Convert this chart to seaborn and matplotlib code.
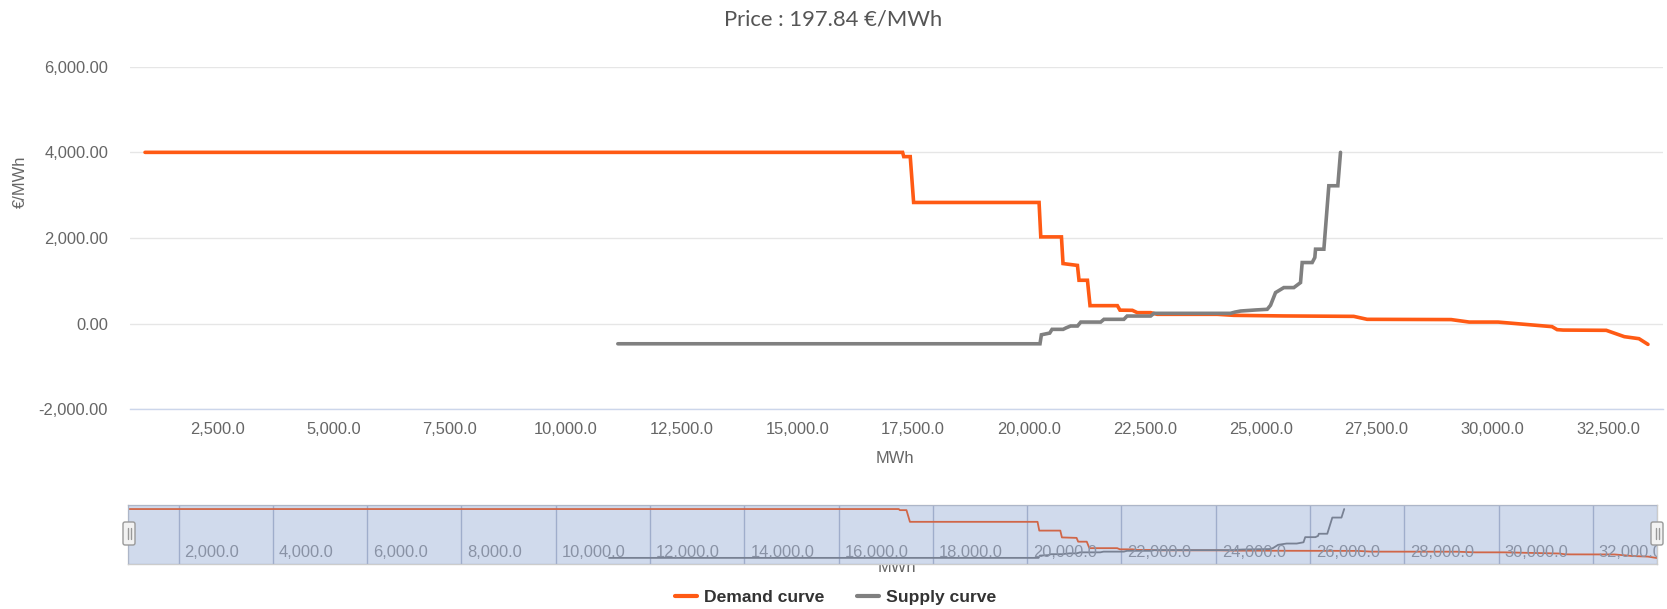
import matplotlib
matplotlib.use("Agg")
import matplotlib.pyplot as plt
import pandas as pd
import seaborn as sns
from matplotlib.lines import Line2D
from matplotlib.patches import FancyBboxPatch, Rectangle
from matplotlib.ticker import FixedLocator, FuncFormatter
from matplotlib.transforms import blended_transform_factory

# ---- data -----------------------------------------------------------------
title_text = "Price : 197.84 €/MWh"
x_label = "MWh"
y_label = "€/MWh"
series_names = ["Demand curve", "Supply curve"]

demand_mwh = [927, 17275, 17300, 17440, 17513, 20220, 20257, 20703, 20737,
              21048, 21082, 21264, 21320, 21910, 21966, 22233, 22340, 22628,
              22770, 24066, 24420, 25500, 27010, 27300, 29112, 29502, 30124,
              31290, 31400, 31530, 32460, 32850, 33166, 33360]
demand_price = [4000, 4000, 3900, 3900, 2830, 2830, 2026, 2026, 1403,
                1360, 1013, 1013, 420, 420, 315, 311, 257, 257,
                218, 218, 194, 180, 170, 101, 95, 37, 37,
                -70, -140, -150, -156, -304, -351, -484]

supply_mwh = [11130, 20240, 20270, 20450, 20500, 20740, 20800, 20900, 21050,
              21120, 21550, 21620, 22050, 22120, 22628, 22700, 24350, 24450,
              24570, 24900, 25143, 25215, 25323, 25502, 25718, 25862, 25898,
              26114, 26171, 26186, 26366, 26473, 26667, 26725]
supply_price = [-470, -470, -260, -220, -133, -133, -100, -55, -55,
                37, 37, 101, 101, 178, 178, 241, 241, 270,
                295, 320, 335, 429, 725, 842, 842, 959, 1427,
                1427, 1544, 1739, 1739, 3220, 3220, 4000]

y_ticks = [-2000, 0, 2000, 4000, 6000]
x_ticks = [2500, 5000, 7500, 10000, 12500, 15000, 17500, 20000, 22500,
           25000, 27500, 30000, 32500]
nav_ticks = [2000, 4000, 6000, 8000, 10000, 12000, 14000, 16000, 18000,
             20000, 22000, 24000, 26000, 28000, 30000, 32000]

colors = {"Demand curve": "#ff5a14", "Supply curve": "#808080"}

# ---- setup ----------------------------------------------------------------
W, H = 1667, 609
PT = 0.72  # px -> pt at dpi 100

sns.set_style("white")
plt.rcParams["font.family"] = ["Liberation Sans", "DejaVu Sans"]

df = pd.concat([
    pd.DataFrame({"MWh": demand_mwh, "price": demand_price, "series": series_names[0]}),
    pd.DataFrame({"MWh": supply_mwh, "price": supply_price, "series": series_names[1]}),
], ignore_index=True)

fig = plt.figure(figsize=(W / 100, H / 100), dpi=100)


def px_rect(left, top, right, bottom):
    return [left / W, 1 - bottom / H, (right - left) / W, (bottom - top) / H]


# ---- main chart -----------------------------------------------------------
ax = fig.add_axes(px_rect(130, 66.7, 1663, 409.3))
sns.lineplot(data=df, x="MWh", y="price", hue="series", palette=colors,
             sort=False, estimator=None, linewidth=2.6, legend=False, ax=ax,
             solid_joinstyle="miter")

x_lo, x_hi = min(demand_mwh), max(demand_mwh)
pad = 0.01 * (x_hi - x_lo)
ax.set_xlim(x_lo - pad, x_hi + pad)
ax.set_ylim(-2000, 6000)

ax.yaxis.set_major_locator(FixedLocator(y_ticks))
ax.xaxis.set_major_locator(FixedLocator(x_ticks))
ax.yaxis.set_major_formatter(FuncFormatter(lambda v, _: f"{v:,.2f}"))
ax.xaxis.set_major_formatter(FuncFormatter(lambda v, _: f"{v:,.1f}"))
ax.grid(axis="y", color="#e6e6e6", linewidth=1)
ax.set_axisbelow(True)
for side in ("top", "right", "left"):
    ax.spines[side].set_visible(False)
ax.spines["bottom"].set_color("#ccd6eb")
ax.spines["bottom"].set_linewidth(1)
ax.tick_params(axis="x", direction="out", length=10 * PT, width=1,
               color="#ccd6eb", labelsize=16.5 * PT, labelcolor="#666666",
               pad=3 * PT)
ax.tick_params(axis="y", length=0, labelsize=16.5 * PT, labelcolor="#666666",
               pad=22 * PT)
ax.set_xlabel("")
ax.set_ylabel("")

fig.text(895 / W, 1 - 463 / H, x_label, ha="center", va="baseline",
         fontsize=16.5 * PT, color="#666666")
fig.text(20 / W, 1 - 182 / H, y_label, ha="center", va="center",
         rotation=90, fontsize=16.5 * PT, color="#666666")
fig.text(833.5 / W, 1 - 19.5 / H, title_text, ha="center", va="center",
         fontsize=22 * PT, color="#555555", family=["Lato", "DejaVu Sans"])

# ---- navigator ------------------------------------------------------------
# axis title of the navigator sits behind the navigator panel
fig.text(897 / W, 1 - 572 / H, x_label, ha="center", va="baseline",
         fontsize=16.5 * PT, color="#666666", zorder=-1)

nav = fig.add_axes(px_rect(128, 505, 1657, 564))
nav.set_facecolor("white")
for t in nav_ticks:
    nav.axvline(t, color="#b9bfd0", linewidth=1, zorder=1)
sns.lineplot(data=df, x="MWh", y="price", hue="series", palette=colors,
             sort=False, estimator=None, linewidth=1.3, legend=False, ax=nav,
             zorder=2)
nav.set_xlim(x_lo, x_hi)
nav.set_ylim(-1030, 4370)
nav.set_xticks([])
nav.set_yticks([])
nav.set_xlabel("")
nav.set_ylabel("")
for s in nav.spines.values():
    s.set_color("#cccccc")
    s.set_linewidth(1)

lab_tf = blended_transform_factory(nav.transData, nav.transAxes)
lab_shift = 6 * (x_hi - x_lo) / (1657 - 128)
for t in nav_ticks:
    nav.text(t + lab_shift, 0.2, f"{t:,.1f}", transform=lab_tf, ha="left",
             va="center", fontsize=16.5 * PT, color="#999999", zorder=3,
             clip_on=True)

nav.add_patch(Rectangle((0, 0), 1, 1, transform=nav.transAxes,
                        facecolor=(102 / 255, 133 / 255, 194 / 255, 0.3),
                        edgecolor="none", zorder=4))

# handles at both ends of the selected range
over = fig.add_axes([0, 0, 1, 1], zorder=10)
over.set_xlim(0, W)
over.set_ylim(H, 0)
over.axis("off")
for cx in (129, 1657):
    over.add_patch(FancyBboxPatch((cx - 6, 522), 12, 23,
                                  boxstyle="round,pad=0,rounding_size=2",
                                  facecolor="#f2f2f2", edgecolor="#999999",
                                  linewidth=1))
    for dx in (-1.5, 1.5):
        over.plot([cx + dx, cx + dx], [528, 539], color="#999999", linewidth=1)

# ---- legend ---------------------------------------------------------------
handles = [Line2D([], [], color=colors[n], linewidth=3) for n in series_names]
leg = fig.legend(handles, series_names, loc="center",
                 bbox_to_anchor=(835.5 / W, 1 - 597 / H), ncol=2, frameon=False,
                 prop=dict(weight="bold", size=17.5 * PT),
                 handlelength=1.25, handletextpad=0.4, columnspacing=1.9)
for txt in leg.get_texts():
    txt.set_color("#333333")

fig.savefig("out.png", dpi=100)
